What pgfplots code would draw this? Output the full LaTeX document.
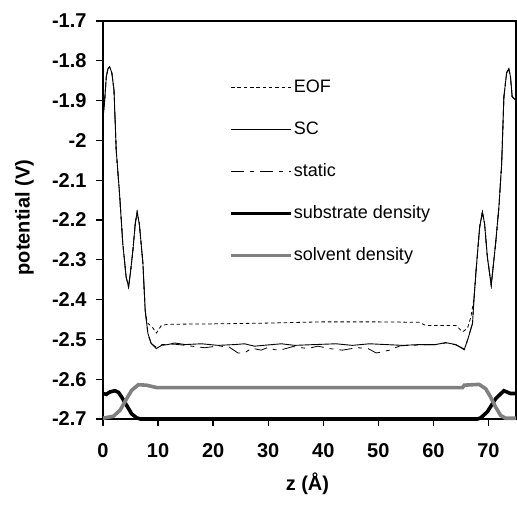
\documentclass[border=0pt]{standalone}
\usepackage{pgfplots}
\pgfplotsset{compat=1.18}
\usepackage{pgfplotstable}
\usepackage{fontspec}
\setmainfont{Liberation Sans}
\definecolor{solvgray}{RGB}{128,128,128}

\pgfplotstableread{
x y
0 -1.99
0.1 -1.93
0.3 -1.90
0.6 -1.84
0.9 -1.82
1.2 -1.815
1.6 -1.83
2.0 -1.874
2.4 -2.025
3.0 -2.133
3.6 -2.26
4.2 -2.343
4.65 -2.368
5.0 -2.33
5.43 -2.276
5.86 -2.209
6.2 -2.18
6.6 -2.21
7.25 -2.309
7.66 -2.427
8.15 -2.485
8.75 -2.51
9.7 -2.523
10.6 -2.515
11.8 -2.513
13 -2.509
14.9 -2.513
17.9 -2.511
20.9 -2.515
23.9 -2.513
25.7 -2.511
27.5 -2.517
29.9 -2.514
32.4 -2.511
34.8 -2.515
38.4 -2.513
42.3 -2.511
45.3 -2.515
48.4 -2.511
51.4 -2.513
54.4 -2.515
57.4 -2.513
60.4 -2.513
62.2 -2.508
64.1 -2.513
65.6 -2.526
66.2 -2.502
67.1 -2.46
67.4 -2.393
67.8 -2.318
68.4 -2.218
68.9 -2.18
69.3 -2.21
69.8 -2.293
70.5 -2.364
71.3 -2.259
71.9 -2.167
72.4 -2.058
72.8 -1.891
73.3 -1.83
73.7 -1.82
74.0 -1.84
74.3 -1.89
75 -1.90
}\sctable

\pgfplotstableread{
x y
0 -1.99
0.1 -1.93
0.3 -1.90
0.6 -1.84
0.9 -1.82
1.2 -1.815
1.6 -1.83
2.0 -1.874
2.4 -2.025
3.0 -2.133
3.6 -2.26
4.2 -2.343
4.65 -2.368
5.0 -2.33
5.43 -2.276
5.86 -2.209
6.2 -2.18
6.6 -2.21
7.25 -2.309
7.66 -2.427
8.0 -2.455
8.2 -2.46
9.0 -2.47
9.7 -2.484
10.6 -2.465
11.8 -2.462
20 -2.461
30 -2.459
39.5 -2.456
50 -2.456
57.4 -2.457
58.6 -2.465
64.1 -2.465
65.3 -2.481
66.2 -2.472
66.8 -2.444
67.1 -2.42
67.4 -2.393
67.8 -2.318
68.4 -2.218
68.9 -2.18
69.3 -2.21
69.8 -2.293
70.5 -2.364
71.3 -2.259
71.9 -2.167
72.4 -2.058
72.8 -1.891
73.3 -1.83
73.7 -1.82
74.0 -1.84
74.3 -1.89
75 -1.90
}\eoftable

\pgfplotstableread{
x y
0 -1.99
0.1 -1.93
0.3 -1.90
0.6 -1.84
0.9 -1.82
1.2 -1.815
1.6 -1.83
2.0 -1.874
2.4 -2.025
3.0 -2.133
3.6 -2.26
4.2 -2.343
4.65 -2.368
5.0 -2.33
5.43 -2.276
5.86 -2.209
6.2 -2.18
6.6 -2.21
7.25 -2.309
7.66 -2.427
8.2 -2.49
8.75 -2.51
9.7 -2.52
10.6 -2.513
13 -2.512
15 -2.515
18.5 -2.521
21 -2.516
23 -2.52
24.5 -2.534
25.7 -2.534
27 -2.522
28.7 -2.527
30 -2.52
31.2 -2.526
32.4 -2.526
34.5 -2.518
37.2 -2.523
39 -2.517
41.1 -2.523
43.5 -2.527
46 -2.521
48 -2.522
49.6 -2.534
50.5 -2.532
52 -2.527
54 -2.516
57.4 -2.514
60.4 -2.513
62.2 -2.509
64.1 -2.514
65.6 -2.524
66.2 -2.502
67.1 -2.46
67.4 -2.393
67.8 -2.318
68.4 -2.218
68.9 -2.18
69.3 -2.21
69.8 -2.293
70.5 -2.364
71.3 -2.259
71.9 -2.167
72.4 -2.058
72.8 -1.891
73.3 -1.83
73.7 -1.82
74.0 -1.84
74.3 -1.89
75 -1.90
}\statictable

\pgfplotstableread{
x y
0 -2.636
0.6 -2.638
1.27 -2.632
2.17 -2.629
2.8 -2.633
3.4 -2.645
4.3 -2.666
5.2 -2.687
6.1 -2.697
6.8 -2.7
68.0 -2.7
68.6 -2.697
69.8 -2.682
71.3 -2.649
72.8 -2.629
74.0 -2.636
75 -2.636
}\subtable

\pgfplotstableread{
x y
0 -2.698
1.9 -2.693
3.1 -2.678
4.3 -2.649
5.2 -2.628
6.4 -2.614
7.9 -2.615
9.7 -2.621
65.3 -2.621
65.6 -2.615
68.3 -2.613
69.5 -2.624
70.4 -2.645
71.3 -2.67
72.2 -2.691
73.1 -2.698
75 -2.698
}\solvtable

\begin{document}
\begin{tikzpicture}
\begin{axis}[
  at={(0pt,0pt)}, anchor=south west,
  scale only axis, width=413pt, height=398pt,
  xmin=0, xmax=75, ymin=-2.7, ymax=-1.7,
  clip=false,
  axis line style={line width=2.4pt},
  every tick/.style={black, line width=1.3pt},
  tick align=outside, major tick length=7pt,
  xtick={0,10,20,30,40,50,60,70},
  xticklabels={0,10,20,30,40,50,60,70},
  ytick={-2.7,-2.6,-2.5,-2.4,-2.3,-2.2,-2.1,-2,-1.9,-1.8,-1.7},
  yticklabels={-2.7,-2.6,-2.5,-2.4,-2.3,-2.2,-2.1,-2,-1.9,-1.8,-1.7},
  xtick pos=bottom, ytick pos=left,
  ticklabel style={font=\fontsize{20}{22}\selectfont\bfseries},
  yticklabel style={anchor=east, xshift=-6pt},
  xticklabel style={anchor=north, yshift=-14pt},
  xlabel={z (Å)}, ylabel={potential (V)},
  label style={font=\fontsize{20}{22}\selectfont\bfseries},
  xlabel style={at={(axis description cs:0.495,-0.163)}, anchor=center},
  ylabel style={at={(axis description cs:-0.19,0.506)}, anchor=center},
  legend image code/.code={\draw[#1] (0pt,0pt) -- (60pt,0pt);},
  legend style={draw=none, fill=none, inner sep=0pt,
    at={(axis description cs:0.3055,0.857)}, anchor=north west,
    row sep=23pt,
    font=\fontsize{18}{20}\selectfont,
    nodes={inner sep=1pt, text height=13pt, text depth=4pt}},
  legend cell align=left,
]
\addplot[black, line width=0.8pt, dash pattern=on 3.5pt off 2.8pt] table[x=x,y=y] {\eoftable};
\addlegendentry{EOF}
\addplot[black, line width=0.9pt] table[x=x,y=y] {\sctable};
\addlegendentry{SC}
\addplot[black, line width=0.8pt, dash pattern=on 13pt off 6pt on 4pt off 6pt] table[x=x,y=y] {\statictable};
\addlegendentry{static}
\addplot[black, line width=3.6pt] table[x=x,y=y] {\subtable};
\addlegendentry{substrate density}
\addplot[solvgray, line width=3.6pt] table[x=x,y=y] {\solvtable};
\addlegendentry{solvent density}
\end{axis}
\pgfresetboundingbox
\path[use as bounding box] (-103pt,-85pt) rectangle (414pt,419pt);
\end{tikzpicture}
\end{document}
